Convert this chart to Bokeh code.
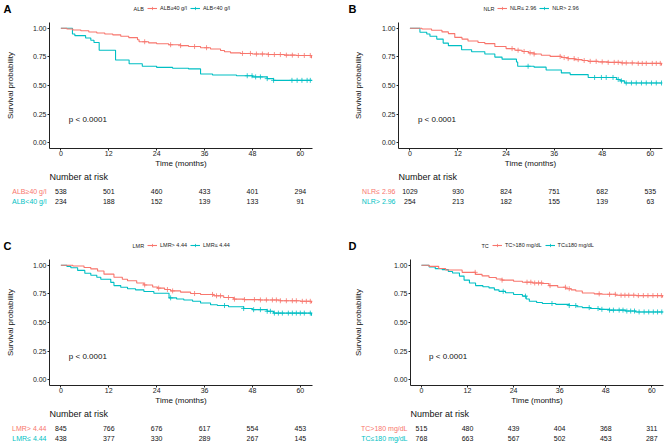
import numpy as np
from bokeh.plotting import figure
from bokeh.models import Range1d, FixedTicker, NumeralTickFormatter, Legend, LegendItem
from bokeh.layouts import column, row
from bokeh.embed import file_html
from bokeh.resources import INLINE
from bokeh.core.properties import value

FONT = "Liberation Sans"
RED = "#F8766D"
TEAL = "#00BFC4"

# ---------------- data ----------------
risk_times = [0, 12, 24, 36, 48, 60]
x_ticks = [0, 12, 24, 36, 48, 60]
y_ticks = [0, 0.25, 0.5, 0.75, 1.0]
pval_text = "p < 0.0001"

# Panel A: ALB
A_title = "ALB"
A_labels = ["ALB≥40 g/l", "ALB<40 g/l"]
A_red_t = [0, 1.5, 3, 5, 7, 9, 11, 13, 15, 17, 19.2, 19.6, 22, 24, 27, 30, 32, 35, 37.5, 40, 41, 42.5, 45, 48, 52, 56, 59, 62.8]
A_red_s = [1.000, 0.993, 0.985, 0.978, 0.967, 0.958, 0.950, 0.942, 0.930, 0.918, 0.900, 0.882, 0.872, 0.865, 0.856, 0.848, 0.840, 0.830, 0.818, 0.805, 0.795, 0.785, 0.780, 0.775, 0.770, 0.765, 0.762, 0.738]
A_red_cens = [21, 27.5, 30, 33.5, 36.5, 45.5, 47.5, 49, 50.5, 52, 53.5, 55, 56.5, 58, 59.5, 61, 62.5]
A_teal_t = [0, 2.9, 3.5, 6.2, 7.5, 8.3, 9.6, 13.7, 17.1, 20.4, 24, 28, 32, 35, 38, 44, 48, 51.7, 53.3, 62.8]
A_teal_s = [1.000, 0.950, 0.935, 0.915, 0.895, 0.875, 0.808, 0.722, 0.690, 0.668, 0.658, 0.650, 0.645, 0.600, 0.592, 0.585, 0.575, 0.560, 0.545, 0.540]
A_teal_cens = [46.7, 47.9, 48.8, 50, 51.7, 53.3, 57.9, 59.2, 60.4, 61.7, 62.5]
A_risk_red = [538, 501, 460, 433, 401, 294]
A_risk_teal = [234, 188, 152, 139, 133, 91]

# Panel B: NLR
B_title = "NLR"
B_labels = ["NLR≤ 2.96", "NLR> 2.96"]
B_red_t = [0, 3, 5.4, 8, 9.6, 11.2, 13, 14.5, 17, 18.7, 21.2, 24, 26.2, 28, 29.6, 31, 32.8, 35, 37.8, 39.5, 41.1, 43, 44.5, 47, 49.5, 52.8, 57, 62.8]
B_red_s = [1.000, 0.993, 0.982, 0.968, 0.953, 0.920, 0.905, 0.889, 0.875, 0.866, 0.840, 0.822, 0.808, 0.797, 0.785, 0.775, 0.764, 0.754, 0.744, 0.735, 0.726, 0.718, 0.711, 0.706, 0.702, 0.697, 0.693, 0.675]
B_red_cens = [25.5, 27, 28.5, 30, 31, 37.5, 38.5, 39.5, 41, 42, 43.5, 45, 46.5, 48, 49.5, 51, 52, 53, 54, 55.5, 57, 58, 59, 60.5, 61.5, 62.5]
B_teal_t = [0, 2.5, 4.2, 5, 6.7, 8.3, 9.6, 12.9, 15.4, 18.7, 21.2, 23, 26.6, 26.9, 31, 34, 37.8, 40, 44.5, 51.6, 52.5, 53.6, 62.8]
B_teal_s = [1.000, 0.965, 0.950, 0.930, 0.905, 0.870, 0.848, 0.812, 0.795, 0.775, 0.748, 0.730, 0.705, 0.668, 0.660, 0.635, 0.610, 0.595, 0.570, 0.553, 0.540, 0.522, 0.522]
B_teal_cens = [29.5, 46.1, 47.8, 49, 50.7, 52, 52.8, 54, 55.3, 56.5, 57.8, 59, 60.3, 61.5, 62.8]
B_risk_red = [1029, 930, 824, 751, 682, 535]
B_risk_teal = [254, 213, 182, 155, 139, 63]

# Panel C: LMR
C_title = "LMR"
C_labels = ["LMR> 4.44", "LMR≤ 4.44"]
C_red_t = [0, 3, 5.8, 7.5, 9.2, 10.8, 13.3, 15.4, 16.7, 19, 20.8, 23, 24.2, 26, 27.5, 30, 32.5, 35, 38.3, 40.8, 43.3, 46, 50, 55, 60, 62.8]
C_red_s = [1.000, 0.993, 0.980, 0.968, 0.950, 0.922, 0.895, 0.878, 0.865, 0.845, 0.828, 0.810, 0.800, 0.788, 0.776, 0.765, 0.753, 0.745, 0.733, 0.718, 0.704, 0.700, 0.697, 0.690, 0.685, 0.668]
C_red_cens = [21, 24.5, 26.7, 28, 33.5, 38, 39, 40, 42, 43.5, 46, 48.5, 50, 51.5, 53, 54, 55, 56.5, 58, 59, 60.5, 61.5, 62.5]
C_teal_t = [0, 1.5, 2.5, 4.2, 6, 7.5, 9, 10, 12.5, 13.3, 15, 16.7, 18.7, 20.8, 23.3, 27.1, 29, 30.8, 33, 35, 37.5, 39.2, 42, 45.8, 48, 51.7, 53.3, 62.8]
C_teal_s = [1.000, 0.990, 0.978, 0.955, 0.930, 0.912, 0.895, 0.878, 0.850, 0.822, 0.808, 0.795, 0.785, 0.770, 0.755, 0.715, 0.705, 0.697, 0.685, 0.670, 0.655, 0.648, 0.638, 0.622, 0.612, 0.598, 0.582, 0.560]
C_teal_cens = [27.5, 41, 45.8, 48.3, 50, 51.7, 52.5, 53.5, 54.5, 55.5, 57, 58, 59, 60, 61, 62.5]
C_risk_red = [845, 766, 676, 617, 554, 453]
C_risk_teal = [438, 377, 330, 289, 267, 145]

# Panel D: TC
D_title = "TC"
D_labels = ["TC>180 mg/dL", "TC≤180 mg/dL"]
D_red_t = [0, 2, 4.5, 6.3, 10.6, 14.1, 15.8, 17.6, 19.5, 21, 24, 26.3, 29, 31.5, 33.2, 35.5, 37.6, 39, 40.2, 41.9, 45, 47.1, 50.6, 56, 62.8]
D_red_s = [1.000, 0.990, 0.972, 0.958, 0.938, 0.920, 0.907, 0.893, 0.880, 0.870, 0.860, 0.852, 0.845, 0.840, 0.822, 0.808, 0.795, 0.785, 0.775, 0.758, 0.750, 0.746, 0.738, 0.735, 0.718]
D_red_cens = [14, 21, 27.5, 28.5, 29.5, 30.5, 31.3, 33.5, 37.5, 38.5, 46.3, 49, 50.5, 52, 53, 54, 55.3, 56.5, 57.8, 59, 60.3, 61.5, 62.5]
D_teal_t = [0, 2, 3.6, 5.4, 7, 8.1, 9.9, 11.1, 12.5, 14.1, 16, 17.6, 19, 20.2, 21.9, 24, 26.3, 27.3, 28.1, 30, 31.5, 35, 38.5, 40.5, 41.9, 44, 46.3, 49, 53.2, 55.8, 62.8]
D_teal_s = [1.000, 0.985, 0.970, 0.962, 0.945, 0.932, 0.905, 0.870, 0.845, 0.822, 0.812, 0.802, 0.785, 0.772, 0.760, 0.745, 0.730, 0.705, 0.685, 0.675, 0.666, 0.658, 0.648, 0.638, 0.630, 0.622, 0.615, 0.608, 0.600, 0.592, 0.588]
D_teal_cens = [21.3, 27.1, 34, 38.5, 40.2, 43.7, 46, 47, 49, 50, 51.5, 52.5, 53.5, 54.5, 55.5, 56.7, 58, 59.2, 60.4, 61.5, 62.6]
D_risk_red = [515, 480, 439, 404, 368, 311]
D_risk_teal = [768, 663, 567, 502, 453, 287]

# ---------------- layout constants ----------------
X0, X1 = -2.85, 63.05
Y0, Y1 = -0.05, 1.05
H_HDR = 14
H_KM = 156
KM_TOP = 8
PVAL_X, PVAL_Y = 2, 0.2
Y_NAR, Y_ROW1, Y_ROW2 = 6, 20.5, 31.2


def surv_at(ts, ss, cens):
    ts = np.asarray(ts, dtype=float)
    ss = np.asarray(ss, dtype=float)
    idx = np.searchsorted(ts, np.asarray(cens, dtype=float), side="right") - 1
    return ss[idx]


def bare_fig(width, height, xr, yr):
    f = figure(width=width, height=height, x_range=xr, y_range=yr,
               output_backend="svg", toolbar_location=None, x_axis_type=None, y_axis_type=None,
               min_border=0, min_border_left=0, min_border_right=0, min_border_top=0,
               min_border_bottom=0, frame_align=False)
    f.grid.visible = False
    f.outline_line_color = None
    f.background_fill_color = "white"
    f.border_fill_color = "white"
    return f


def style_axis(ax):
    ax.major_tick_out = 2
    ax.major_tick_in = 0
    ax.minor_tick_out = 0
    ax.minor_tick_in = 0
    ax.major_tick_line_color = "#222222"
    ax.axis_line_color = "#222222"
    ax.axis_line_width = 1
    ax.major_label_text_font = FONT
    ax.major_label_text_font_size = "7px"
    ax.major_label_text_color = "#222222"
    ax.axis_label_text_font = FONT
    ax.axis_label_text_font_size = "8px"
    ax.axis_label_text_font_style = "normal"
    ax.axis_label_text_color = "#111111"


def make_panel(letter, title, labels, red_t, red_s, red_c, teal_t, teal_s, teal_c,
               risk_red, risk_teal, width, risk_h, ml, mr, title_x, leg_x, letter_x, ylab_standoff):
    # ---- header: panel letter and legend
    hdr = bare_fig(width, H_HDR, Range1d(0, width), Range1d(H_HDR, 0))
    hdr.text(x=[letter_x], y=[8], text=[letter], text_font=value(FONT), text_font_size="11px",
             text_font_style="bold", text_color="black", text_align="left", text_baseline="middle")
    hdr.text(x=[title_x], y=[8], text=[title], text_font=value(FONT), text_font_size="5.5px",
             text_color="#222222", text_align="left", text_baseline="middle")
    # legend keys (hidden copies of the curves; only their legend glyphs are shown)
    h_red_l = hdr.step(red_t, red_s, mode="after", line_color=RED, line_width=1.1, visible=False)
    h_red_c = hdr.scatter(red_c, surv_at(red_t, red_s, red_c), marker="cross", size=5,
                          line_color=RED, line_width=0.8, visible=False)
    h_teal_l = hdr.step(teal_t, teal_s, mode="after", line_color=TEAL, line_width=1.1, visible=False)
    h_teal_c = hdr.scatter(teal_c, surv_at(teal_t, teal_s, teal_c), marker="cross", size=5,
                           line_color=TEAL, line_width=0.8, visible=False)
    leg = Legend(items=[LegendItem(label=labels[0], renderers=[h_red_l, h_red_c]),
                        LegendItem(label=labels[1], renderers=[h_teal_l, h_teal_c])],
                 orientation="horizontal", location=(leg_x, 2),
                 label_text_font=FONT, label_text_font_size="5.5px", label_text_color="#222222",
                 glyph_width=10, glyph_height=8, label_height=8, label_standoff=3, spacing=3,
                 padding=0, margin=0, background_fill_alpha=0, border_line_alpha=0,
                 inactive_fill_alpha=0)
    hdr.add_layout(leg)

    # ---- Kaplan-Meier plot
    km = figure(width=width, height=H_KM, x_range=Range1d(X0, X1), y_range=Range1d(Y0, Y1),
                output_backend="svg", toolbar_location=None, frame_align=False,
                min_border_left=ml, min_border_right=mr, min_border_top=KM_TOP, min_border_bottom=0)
    km.grid.visible = False
    km.outline_line_color = None
    km.background_fill_color = "white"
    km.border_fill_color = "white"
    km.xaxis.ticker = FixedTicker(ticks=x_ticks)
    km.yaxis.ticker = FixedTicker(ticks=y_ticks)
    km.yaxis.formatter = NumeralTickFormatter(format="0.00")
    style_axis(km.xaxis[0])
    style_axis(km.yaxis[0])
    km.xaxis.major_label_standoff = 0
    km.yaxis.major_label_standoff = 1
    km.xaxis.axis_label = "Time (months)"
    km.xaxis.axis_label_standoff = 0
    km.yaxis.axis_label = "Survival probability"
    km.yaxis.axis_label_standoff = ylab_standoff

    km.step(teal_t, teal_s, mode="after", line_color=TEAL, line_width=1.1)
    km.scatter(teal_c, surv_at(teal_t, teal_s, teal_c), marker="cross", size=5,
               line_color=TEAL, line_width=0.8)
    km.step(red_t, red_s, mode="after", line_color=RED, line_width=1.1)
    km.scatter(red_c, surv_at(red_t, red_s, red_c), marker="cross", size=5,
               line_color=RED, line_width=0.8)
    km.text(x=[PVAL_X], y=[PVAL_Y], text=[pval_text], text_font=value(FONT), text_font_size="8px",
            text_color="#111111", text_align="left", text_baseline="middle")

    # ---- risk table, on the same time scale
    ppm = (width - ml - mr) / (X1 - X0)
    rk = bare_fig(width, risk_h, Range1d(X0 - ml / ppm, X1 + mr / ppm), Range1d(risk_h, 0))
    rk.text(x=[X0], y=[Y_NAR], text=["Number at risk"], text_font=value(FONT), text_font_size="9px",
            text_color="#111111", text_align="left", text_baseline="middle")
    lab_x = X0 - 3 / ppm
    rk.text(x=[lab_x], y=[Y_ROW1], text=[labels[0]], text_font=value(FONT), text_font_size="7px",
            text_color=RED, text_align="right", text_baseline="middle")
    rk.text(x=[lab_x], y=[Y_ROW2], text=[labels[1]], text_font=value(FONT), text_font_size="7px",
            text_color=TEAL, text_align="right", text_baseline="middle")
    rk.text(x=risk_times, y=[Y_ROW1] * len(risk_times), text=[str(v) for v in risk_red],
            text_font=value(FONT), text_font_size="7px", text_color="#111111",
            text_align="center", text_baseline="middle")
    rk.text(x=risk_times, y=[Y_ROW2] * len(risk_times), text=[str(v) for v in risk_teal],
            text_font=value(FONT), text_font_size="7px", text_color="#111111",
            text_align="center", text_baseline="middle")
    return column(hdr, km, rk, spacing=0)


pA = make_panel("A", A_title, A_labels, A_red_t, A_red_s, A_red_cens, A_teal_t, A_teal_s, A_teal_cens,
                A_risk_red, A_risk_teal, 335, 67, 49, 23, 133, 147, 3, 15)
pB = make_panel("B", B_title, B_labels, B_red_t, B_red_s, B_red_cens, B_teal_t, B_teal_s, B_teal_cens,
                B_risk_red, B_risk_teal, 333, 67, 63, 6, 148, 162, 13, 16)
pC = make_panel("C", C_title, C_labels, C_red_t, C_red_s, C_red_cens, C_teal_t, C_teal_s, C_teal_cens,
                C_risk_red, C_risk_teal, 335, 37, 49, 23, 132, 147, 3, 15)
pD = make_panel("D", D_title, D_labels, D_red_t, D_red_s, D_red_cens, D_teal_t, D_teal_s, D_teal_cens,
                D_risk_red, D_risk_teal, 333, 37, 75, 5, 146, 157, 13, 28)

p = column(row(pA, pB, spacing=0), row(pC, pD, spacing=0), spacing=0)
open("out.html", "w").write(file_html(p, INLINE))
